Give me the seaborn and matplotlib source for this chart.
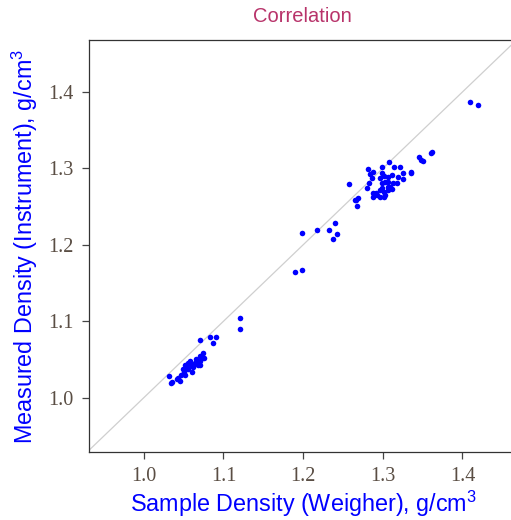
import matplotlib
matplotlib.use("Agg")
import matplotlib.pyplot as plt
import seaborn as sns
import pandas as pd

# sample density (weigher) vs measured density (instrument), g/cm3
weigher = [
    1.031, 1.035, 1.034, 1.041, 1.045, 1.043, 1.047, 1.049, 1.050, 1.052,
    1.054, 1.056, 1.058, 1.060, 1.062, 1.064, 1.066, 1.068, 1.070, 1.073,
    1.071, 1.074, 1.075, 1.056, 1.060, 1.052, 1.062, 1.066, 1.058, 1.070,
    1.070, 1.083, 1.091, 1.087, 1.121, 1.121,
    1.190, 1.198, 1.198, 1.217, 1.232, 1.240, 1.238, 1.242,
    1.258, 1.282, 1.284, 1.288, 1.287, 1.283, 1.280, 1.288, 1.288, 1.267,
    1.269, 1.268, 1.265, 1.299, 1.308, 1.299, 1.302, 1.297, 1.306, 1.311,
    1.314, 1.322, 1.325, 1.319, 1.326, 1.336, 1.335, 1.346, 1.348, 1.351,
    1.360, 1.362, 1.299, 1.303, 1.307, 1.313, 1.318, 1.299, 1.306, 1.309,
    1.296, 1.301, 1.307, 1.312, 1.291, 1.293, 1.303, 1.296, 1.301,
    1.409, 1.419,
]
instrument = [
    1.028, 1.021, 1.019, 1.024, 1.022, 1.026, 1.029, 1.037, 1.033, 1.043,
    1.039, 1.045, 1.048, 1.041, 1.043, 1.045, 1.050, 1.043, 1.048, 1.052,
    1.043, 1.058, 1.052, 1.037, 1.034, 1.030, 1.040, 1.046, 1.044, 1.055,
    1.075, 1.079, 1.079, 1.072, 1.104, 1.090,
    1.165, 1.167, 1.215, 1.220, 1.220, 1.229, 1.207, 1.214,
    1.280, 1.299, 1.293, 1.295, 1.288, 1.281, 1.275, 1.268, 1.263, 1.259,
    1.261, 1.251, 1.258, 1.302, 1.308, 1.294, 1.290, 1.288, 1.289, 1.292,
    1.302, 1.302, 1.294, 1.289, 1.286, 1.295, 1.294, 1.315, 1.311, 1.310,
    1.320, 1.322, 1.281, 1.282, 1.282, 1.281, 1.281, 1.275, 1.276, 1.276,
    1.272, 1.269, 1.272, 1.273, 1.268, 1.265, 1.265, 1.263, 1.263,
    1.387, 1.383,
]
ticks = [1.0, 1.1, 1.2, 1.3, 1.4]

df = pd.DataFrame({"weigher": weigher, "instrument": instrument})

sns.set_style("white")
plt.rcParams["mathtext.fontset"] = "custom"
plt.rcParams["mathtext.rm"] = "Liberation Sans"
plt.rcParams["mathtext.it"] = "Liberation Sans"

fig = plt.figure(figsize=(5.11, 5.20), dpi=100)
ax = fig.add_axes([0.174, 0.131, 0.84, 0.792])

lims = (0.931, 1.47)
ax.plot(lims, lims, color="#cfcfcf", lw=0.9, zorder=1)
sns.scatterplot(data=df, x="weigher", y="instrument", ax=ax, color="#0000ff",
                s=16, linewidth=0, zorder=2)

ax.set_xlim(0.931, 1.47)
ax.set_ylim(0.929, 1.468)
ax.set_xticks(ticks)
ax.set_yticks(ticks)
ax.set_xticklabels([f"{t:.1f}" for t in ticks])
ax.set_yticklabels([f"{t:.1f}" for t in ticks])
ax.tick_params(axis="both", direction="out", length=5, width=0.9,
               bottom=True, left=True,
               color="#444444", labelcolor="#5a4e44", labelsize=14.5, pad=6)
for lab in ax.get_xticklabels() + ax.get_yticklabels():
    lab.set_family("Liberation Serif")
for sp in ax.spines.values():
    sp.set_color("#333333")
    sp.set_linewidth(0.9)

ax.set_xlabel("Sample Density (Weigher), g/cm$^3$", color="#0000ff",
              fontsize=16.8, family="Liberation Sans", labelpad=2)
ax.set_ylabel("Measured Density (Instrument), g/cm$^3$", color="#0000ff",
              fontsize=16.8, family="Liberation Sans", labelpad=6)
fig.text(0.592, 0.968, "Correlation", ha="center", va="center",
         color="#b8336a", fontsize=14.5, family="Liberation Sans")

fig.savefig("out.png", dpi=100)
